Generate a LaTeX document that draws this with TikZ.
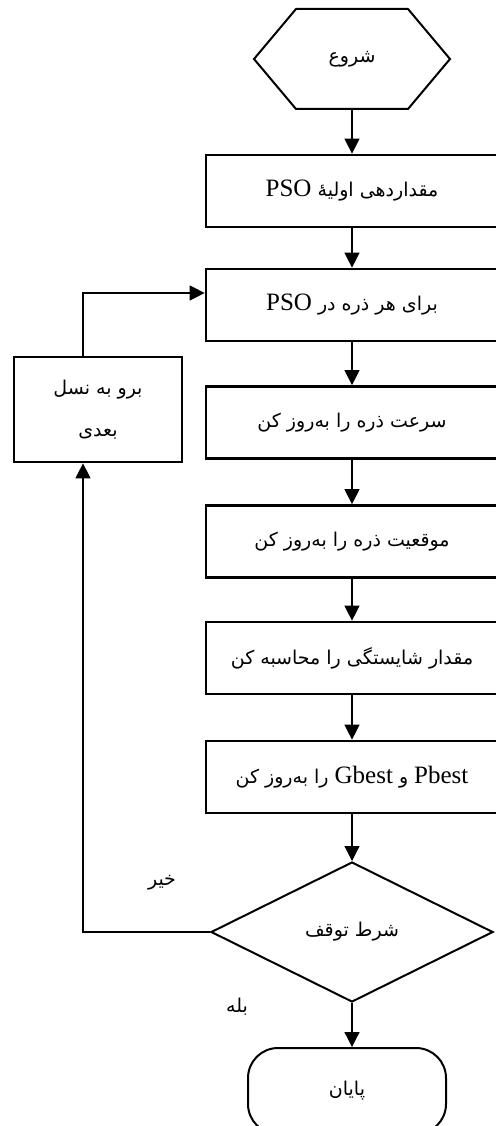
\documentclass[tikz,border=0pt]{standalone}
\usepackage{fontspec}
\newfontfamily\pfont[Script=Arabic]{DejaVu Sans}
\newfontfamily\lfont{Liberation Serif}
\TeXXeTstate=1
\usetikzlibrary{arrows.meta,shapes.geometric}
\newcommand{\PR}[1]{{\pfont\fontsize{19}{24}\selectfont\beginR #1\endR}}
\newcommand{\LT}[1]{\beginL{\lfont\fontsize{25}{28}\selectfont #1}\endL}
\tikzset{
  box/.style={draw, line width=2.7pt, minimum width=292pt, minimum height=72pt, inner sep=0pt},
  conn/.style={line width=1.2pt, -{Triangle[length=15pt,width=15pt]}},
  outline/.style={draw, line width=2pt},
}
\begin{document}
\begin{tikzpicture}[x=1pt,y=-1pt]
\useasboundingbox (0,0) rectangle (495,1126);
\fill[white] (0,0) rectangle (495,1126);
% start hexagon
\node[minimum width=198pt, minimum height=100pt, inner sep=0pt] (start) at (352,59) {\PR{شروع}};
\draw[line width=2pt, line join=miter] (254,59) -- (296,9) -- (408,9) -- (450,59) -- (408,109) -- (296,109) -- cycle;
% process boxes
\node[box] (b1) at (352,191) {\PR{مقداردهی اولیهٔ \LT{PSO}}};
\node[box] (b2) at (352,305) {\PR{برای هر ذره در \LT{PSO}}};
\node[box] (b3) at (352,422.5) {\PR{سرعت ذره را به‌روز کن}};
\node[box] (b4) at (352,541.5) {\PR{موقعیت ذره را به‌روز کن}};
\node[box] (b5) at (352,658) {\PR{مقدار شایستگی را محاسبه کن}};
\node[box] (b6) at (352,777) {\PR{\LT{Pbest} و \LT{Gbest} را به‌روز کن}};
% decision
\node[outline, shape=diamond, minimum width=282pt, minimum height=140pt, inner sep=0pt] (dia) at (352,932) {\PR{شرط توقف}};
% end terminator
\node[outline, rounded corners=30pt, minimum width=198pt, minimum height=86pt, inner sep=0pt] (fin) at (347,1091) {\PR{پایان}};
% next generation box
\node[box, minimum width=168pt, minimum height=105pt, align=center, font=\pfont\fontsize{19}{42}\selectfont] (next) at (98,409.5) {\PR{برو به نسل}\\\PR{بعدی}};
% labels
\node (no) at (162,883) {\PR{خیر}};
\node (yes) at (237,1007) {\PR{بله}};
% connectors
\coordinate (lx) at (83,0);
\draw[conn] (start.south) -- (b1.north);
\draw[conn] (b1.south) -- (b2.north);
\draw[conn] (b2.south) -- (b3.north);
\draw[conn] (b3.south) -- (b4.north);
\draw[conn] (b4.south) -- (b5.north);
\draw[conn] (b5.south) -- (b6.north);
\draw[conn] (b6.south) -- (dia.north);
\draw[conn] (dia.south) -- (dia.south |- fin.north);
\draw[conn] (next.north -| lx) |- ([yshift=12pt]b2.west);
\draw[conn] (dia.west) -| (next.south -| lx);
\end{tikzpicture}
\end{document}
